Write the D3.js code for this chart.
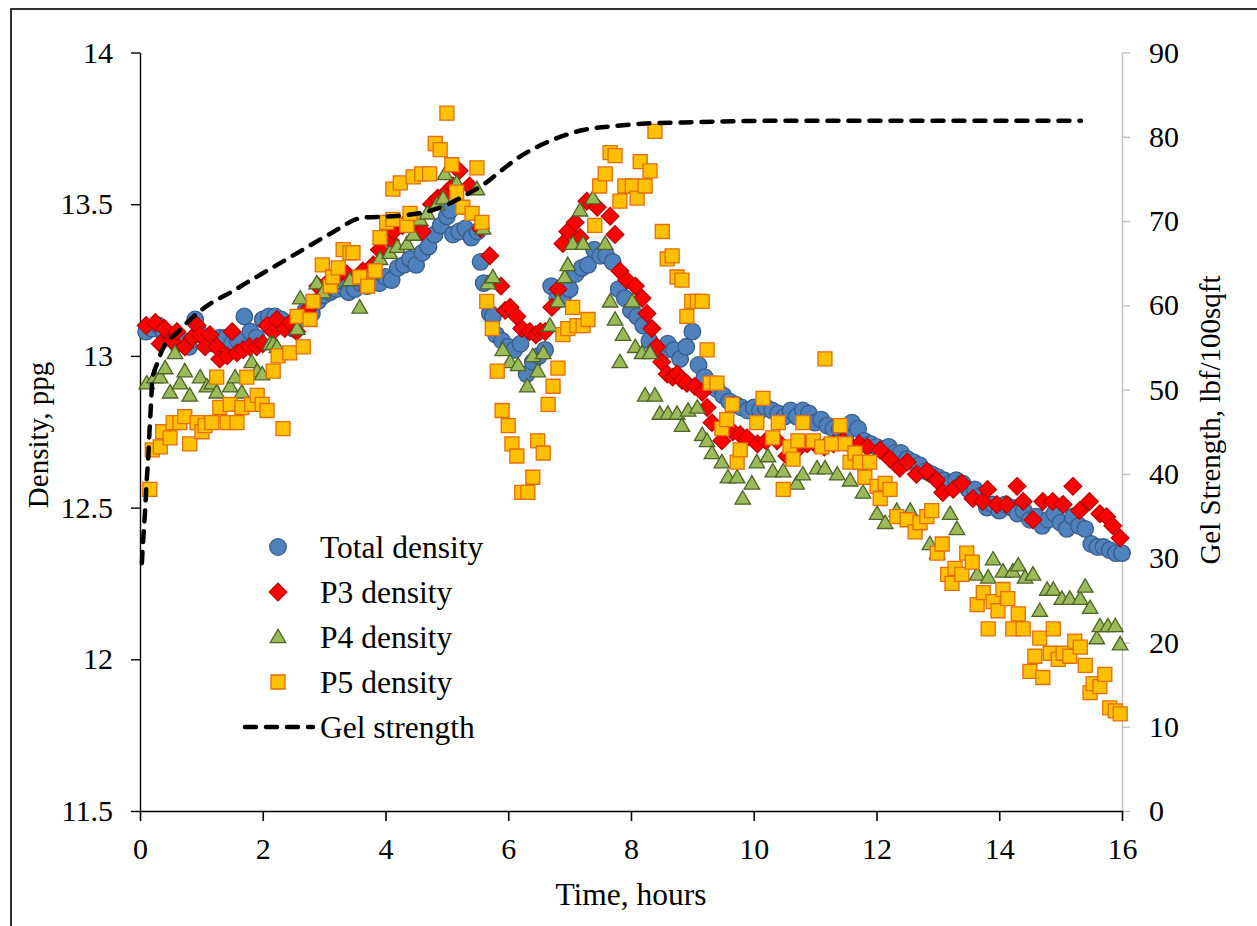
<!DOCTYPE html>
<html>
<head>
<meta charset="utf-8">
<script src="https://cdn.jsdelivr.net/npm/d3@7"></script>
<style>
  body { margin: 0; background: #fff; }
  text { font-family: "Times New Roman", "Liberation Serif", serif; fill: #000; }
</style>
</head>
<body>
<div id="chart"></div>
<script>
// data: [time in hours, value]
var totalDensity = [
  [0.1,13.08],[0.2,13.09],[0.3,13.10],[0.4,13.07],[0.5,13.06],[0.6,13.04],[0.7,13.05],[0.8,13.03],[0.9,13.12],
  [1.0,13.07],[1.1,13.05],[1.2,13.04],[1.3,13.06],[1.4,13.06],[1.5,13.04],[1.6,13.05],[1.7,13.13],[1.8,13.08],[1.9,13.06],
  [2.0,13.12],[2.1,13.13],[2.2,13.13],[2.3,13.12],[2.4,13.10],[2.5,13.09],[2.6,13.12],[2.7,13.15],[2.8,13.14],[2.9,13.18],
  [3.0,13.20],[3.1,13.21],[3.2,13.22],[3.3,13.23],[3.4,13.21],[3.5,13.22],[3.6,13.24],[3.7,13.23],[3.8,13.25],[3.9,13.24],
  [4.0,13.26],[4.1,13.25],[4.2,13.29],[4.3,13.30],[4.4,13.32],[4.5,13.30],[4.6,13.34],[4.7,13.36],[4.8,13.40],[4.9,13.43],
  [5.0,13.46],[5.05,13.48],[5.1,13.40],[5.2,13.41],[5.3,13.42],[5.4,13.39],[5.5,13.41],[5.55,13.31],[5.6,13.24],[5.7,13.14],
  [5.75,13.13],[5.8,13.07],[5.9,13.05],[6.0,13.03],[6.1,13.02],[6.2,13.04],[6.3,12.94],[6.4,12.98],[6.5,13.00],[6.6,13.02],
  [6.7,13.23],[6.8,13.19],[6.9,13.20],[7.0,13.22],[7.1,13.27],[7.2,13.29],[7.3,13.30],[7.4,13.35],[7.5,13.33],[7.6,13.33],
  [7.7,13.31],[7.8,13.22],[7.9,13.19],[8.0,13.15],[8.1,13.13],[8.2,13.10],[8.3,13.05],[8.4,13.02],[8.5,13.01],[8.6,13.04],
  [8.7,13.02],[8.8,12.99],[8.9,13.03],[9.0,13.08],[9.1,12.97],[9.2,12.93],[9.3,12.90],[9.4,12.89],[9.5,12.87],[9.6,12.85],
  [9.7,12.84],[9.8,12.83],[9.9,12.82],[10.0,12.83],[10.1,12.82],[10.2,12.83],[10.3,12.82],[10.4,12.81],[10.5,12.80],
  [10.6,12.82],[10.7,12.80],[10.8,12.82],[10.9,12.81],[11.0,12.78],[11.1,12.79],[11.2,12.77],[11.3,12.76],[11.4,12.76],
  [11.5,12.74],[11.6,12.78],[11.7,12.76],[11.8,12.72],[11.9,12.71],[12.0,12.70],[12.1,12.69],[12.2,12.70],[12.3,12.68],
  [12.4,12.68],[12.5,12.66],[12.6,12.65],[12.7,12.64],[12.8,12.62],[12.9,12.61],[13.0,12.60],[13.1,12.59],[13.2,12.58],
  [13.3,12.59],[13.4,12.58],[13.5,12.56],[13.6,12.56],[13.7,12.54],[13.8,12.50],[13.9,12.51],[14.0,12.49],[14.1,12.51],
  [14.2,12.50],[14.3,12.48],[14.4,12.49],[14.5,12.46],[14.6,12.47],[14.7,12.44],[14.8,12.46],[14.9,12.48],[15.0,12.45],
  [15.1,12.43],[15.2,12.47],[15.3,12.44],[15.4,12.43],[15.5,12.38],[15.6,12.37],[15.7,12.37],[15.8,12.36],[15.9,12.35],[16.0,12.35]
];

var p3Density = [
  [0.1,13.10],[0.25,13.11],[0.33,13.04],[0.4,13.09],[0.52,13.05],[0.6,13.08],[0.73,13.03],[0.85,13.06],[0.93,13.10],
  [0.98,13.07],[1.06,13.03],[1.14,13.07],[1.25,13.03],[1.3,12.99],[1.42,13.00],[1.5,13.08],[1.58,13.01],[1.68,13.02],
  [1.79,13.03],[1.9,13.03],[2.0,13.04],[2.07,13.10],[2.17,13.08],[2.23,13.12],[2.36,13.09],[2.45,13.11],[2.55,13.08],
  [2.72,13.15],[2.9,13.23],[3.05,13.24],[3.15,13.25],[3.37,13.27],[3.63,13.28],[3.8,13.30],[3.9,13.35],[4.08,13.38],
  [4.13,13.41],[4.28,13.43],[4.4,13.45],[4.55,13.43],[4.6,13.41],[4.75,13.50],[4.85,13.52],[5.0,13.54],[5.1,13.56],
  [5.2,13.61],[5.37,13.56],[5.55,13.42],[5.7,13.33],[5.88,13.23],[5.95,13.15],[6.03,13.16],[6.14,13.13],[6.22,13.09],
  [6.35,13.08],[6.45,13.07],[6.52,13.08],[6.6,13.08],[6.71,13.16],[6.81,13.22],[6.89,13.37],[6.97,13.41],[7.09,13.44],
  [7.17,13.39],[7.28,13.51],[7.45,13.49],[7.66,13.46],[7.74,13.40],[7.82,13.28],[7.93,13.25],[8.07,13.23],[8.18,13.19],
  [8.26,13.14],[8.34,13.09],[8.42,13.03],[8.5,12.98],[8.59,12.94],[8.68,12.93],[8.75,12.94],[8.83,12.92],[8.91,12.91],
  [9.04,12.90],[9.16,12.88],[9.24,12.83],[9.32,12.78],[9.48,12.72],[9.66,12.75],[9.78,12.74],[9.89,12.73],[10.06,12.71],
  [10.2,12.72],[10.38,12.72],[10.54,12.67],[10.75,12.70],[10.87,12.71],[11.0,12.71],[11.15,12.70],[11.3,12.71],
  [11.45,12.72],[11.6,12.70],[11.72,12.71],[11.85,12.70],[12.06,12.69],[12.22,12.66],[12.38,12.63],[12.5,12.65],
  [12.65,12.61],[12.82,12.62],[12.98,12.59],[13.08,12.55],[13.25,12.56],[13.39,12.58],[13.57,12.53],[13.73,12.52],
  [13.81,12.56],[13.96,12.51],[14.12,12.51],[14.29,12.57],[14.39,12.52],[14.55,12.46],[14.71,12.52],[14.87,12.52],
  [15.04,12.51],[15.2,12.57],[15.31,12.49],[15.47,12.52],[15.64,12.48],[15.75,12.47],[15.85,12.44],[15.97,12.40]
];

var p4Density = [
  [0.11,12.91],[0.24,12.93],[0.33,12.93],[0.41,12.96],[0.49,12.88],[0.57,13.01],[0.65,12.91],[0.73,12.95],[0.81,12.87],
  [0.98,12.93],[1.09,12.90],[1.17,12.91],[1.25,12.88],[1.47,12.90],[1.55,12.93],[1.66,12.88],[1.82,12.98],[1.91,12.95],
  [1.99,12.94],[2.12,13.04],[2.17,13.04],[2.23,13.03],[2.56,13.09],[2.61,13.19],[2.88,13.24],[2.98,13.21],[3.14,13.24],
  [3.42,13.25],[3.58,13.16],[3.75,13.27],[3.91,13.32],[4.07,13.34],[4.19,13.36],[4.35,13.37],[4.45,13.40],[4.56,13.45],
  [4.68,13.47],[4.84,13.50],[4.94,13.52],[4.97,13.60],[5.16,13.57],[5.49,13.55],[5.59,13.42],[5.67,13.24],[5.75,13.26],
  [5.91,13.02],[6.03,12.98],[6.16,12.97],[6.31,12.90],[6.4,13.00],[6.48,12.95],[6.57,13.01],[6.68,13.10],[6.81,13.18],
  [6.92,13.26],[6.97,13.30],[7.05,13.37],[7.17,13.48],[7.22,13.37],[7.38,13.52],[7.58,13.37],[7.66,13.18],[7.74,13.12],
  [7.82,12.98],[7.87,13.07],[8.02,13.18],[8.07,13.03],[8.18,13.01],[8.31,13.01],[8.23,12.87],[8.39,12.87],[8.47,12.81],
  [8.6,12.81],[8.75,12.81],[8.83,12.77],[8.93,12.82],[9.08,12.83],[9.16,12.74],[9.24,12.72],[9.32,12.68],[9.48,12.65],
  [9.58,12.60],[9.73,12.60],[9.82,12.53],[9.97,12.58],[10.05,12.65],[10.23,12.67],[10.31,12.62],[10.48,12.62],
  [10.7,12.58],[10.8,12.61],[11.03,12.63],[11.16,12.63],[11.36,12.61],[11.57,12.59],[11.78,12.55],[12.01,12.48],
  [12.14,12.45],[12.33,12.49],[12.55,12.49],[12.87,12.38],[12.99,12.35],[13.2,12.48],[13.31,12.43],[13.64,12.28],
  [13.82,12.27],[13.9,12.33],[14.06,12.29],[14.22,12.29],[14.31,12.31],[14.42,12.27],[14.55,12.28],[14.66,12.16],
  [14.78,12.23],[14.88,12.23],[15.02,12.20],[15.15,12.20],[15.32,12.20],[15.4,12.24],[15.48,12.17],[15.59,12.07],
  [15.64,12.11],[15.77,12.11],[15.89,12.11],[15.97,12.05]
];

var p5Density = [
  [0.16,12.56],[0.2,12.69],[0.33,12.70],[0.37,12.75],[0.49,12.73],[0.54,12.78],[0.65,12.78],[0.73,12.80],[0.81,12.71],
  [0.93,12.78],[1.01,12.75],[1.06,12.77],[1.17,12.78],[1.25,12.93],[1.3,12.83],[1.42,12.78],[1.47,12.84],[1.58,12.78],
  [1.66,12.83],[1.74,12.93],[1.82,12.84],[1.91,12.87],[1.99,12.84],[2.07,12.82],[2.17,12.95],[2.25,13.00],[2.33,12.76],
  [2.44,13.01],[2.56,13.13],[2.66,13.03],[2.77,13.12],[2.82,13.18],[2.97,13.30],[3.1,13.23],[3.14,13.26],[3.23,13.29],
  [3.31,13.35],[3.42,13.34],[3.47,13.34],[3.58,13.26],[3.71,13.23],[3.83,13.28],[3.91,13.39],[4.02,13.44],[4.12,13.45],
  [4.12,13.55],[4.24,13.57],[4.35,13.43],[4.4,13.47],[4.45,13.59],[4.59,13.60],[4.72,13.60],[4.81,13.70],[4.89,13.68],
  [5.0,13.80],[5.08,13.63],[5.16,13.54],[5.26,13.49],[5.41,13.47],[5.49,13.62],[5.57,13.44],[5.65,13.18],[5.74,13.09],
  [5.82,12.95],[5.9,12.82],[6.0,12.77],[6.06,12.71],[6.14,12.67],[6.22,12.55],[6.32,12.55],[6.4,12.60],[6.48,12.72],
  [6.57,12.68],[6.65,12.84],[6.73,12.90],[6.81,12.96],[6.89,13.07],[6.97,13.09],[7.05,13.16],[7.12,13.10],[7.22,13.10],
  [7.3,13.12],[7.41,13.43],[7.49,13.56],[7.58,13.60],[7.66,13.67],[7.74,13.66],[7.82,13.51],[7.9,13.56],[8.02,13.56],
  [8.1,13.52],[8.15,13.64],[8.23,13.56],[8.31,13.61],[8.39,13.74],[8.51,13.41],[8.59,13.32],[8.67,13.33],[8.75,13.26],
  [8.83,13.25],[8.91,13.13],[8.99,13.18],[9.08,13.18],[9.16,13.18],[9.24,13.02],[9.29,12.91],[9.4,12.91],[9.48,12.76],
  [9.56,12.79],[9.65,12.84],[9.73,12.65],[9.78,12.69],[10.05,12.78],[10.15,12.86],[10.31,12.73],[10.4,12.78],
  [10.48,12.56],[10.59,12.70],[10.64,12.66],[10.72,12.72],[10.8,12.78],[10.97,12.72],[11.11,12.70],[11.16,12.99],
  [11.27,12.71],[11.41,12.77],[11.49,12.71],[11.57,12.65],[11.65,12.68],[11.73,12.65],[11.81,12.60],[11.89,12.65],
  [12.01,12.57],[12.06,12.53],[12.14,12.58],[12.22,12.56],[12.33,12.47],[12.5,12.46],[12.63,12.42],[12.71,12.45],
  [12.82,12.47],[12.9,12.49],[12.99,12.35],[13.07,12.38],[13.16,12.28],[13.23,12.25],[13.28,12.30],[13.39,12.28],
  [13.47,12.35],[13.56,12.32],[13.64,12.18],[13.74,12.22],[13.82,12.10],[13.9,12.19],[13.98,12.16],[14.06,12.23],
  [14.14,12.20],[14.22,12.10],[14.31,12.15],[14.39,12.10],[14.5,11.96],[14.58,12.01],[14.66,12.07],[14.71,11.94],
  [14.83,12.02],[14.88,12.10],[14.96,12.00],[15.04,12.02],[15.15,12.01],[15.23,12.06],[15.32,12.04],[15.4,11.98],
  [15.48,11.89],[15.53,11.92],[15.64,11.91],[15.72,11.95],[15.8,11.84],[15.89,11.83],[15.97,11.82]
];

var gelStrength = [
  [0.03,29.4],[0.055,32.5],[0.08,35.3],[0.11,39.3],[0.135,42],[0.15,44.4],[0.165,46.4],[0.18,48.4],[0.2,51.1],
  [0.28,53.1],[0.38,55],[0.6,56.7],[0.86,58.6],[1.19,60.4],[1.47,61.5],[1.74,62.7],[2.0,63.8],[2.56,66.2],[3.1,68.5],
  [3.63,70.4],[4.19,70.6],[4.72,71.2],[5.05,72.1],[5.26,72.9],[5.59,74.3],[5.82,75.6],[6.14,77.4],[6.68,79.5],
  [7.22,80.8],[7.77,81.3],[8.31,81.6],[8.85,81.7],[9.4,81.8],[10.5,81.9],[12,81.9],[14,81.9],[15.33,81.9]
];

var xTicks = [0, 2, 4, 6, 8, 10, 12, 14, 16];
var yLeftTicks = [11.5, 12, 12.5, 13, 13.5, 14];
var yRightTicks = [0, 10, 20, 30, 40, 50, 60, 70, 80, 90];
var legendNames = ["Total density", "P3 density", "P4 density", "P5 density", "Gel strength"];

var W = 1257, H = 926;
var plot = {left: 140, right: 1122, top: 52.5, bottom: 811};

var svg = d3.select("#chart").append("svg")
    .attr("width", W)
    .attr("height", H);

// outer frame (runs off the right and bottom edges)
svg.append("rect")
    .attr("x", 11).attr("y", 9)
    .attr("width", 1400).attr("height", 1000)
    .attr("fill", "none")
    .attr("stroke", "#000")
    .attr("stroke-width", 1.6);

var x = d3.scaleLinear().domain([0, 16]).range([plot.left, plot.right]);
var y = d3.scaleLinear().domain([11.5, 14]).range([plot.bottom, plot.top]);
var y2 = d3.scaleLinear().domain([0, 90]).range([plot.bottom, plot.top]);

// marker shapes
function circlePath(r) { return d3.symbol(d3.symbolCircle, Math.PI * r * r)(); }
function squarePath(s) { return d3.symbol(d3.symbolSquare, s * s)(); }
function diamondPath(h) { return "M0," + (-h) + "L" + h + ",0L0," + h + "L" + (-h) + ",0Z"; }
function trianglePath(s) {
  var hh = s * Math.sqrt(3) / 2;
  return "M0," + (-hh / 2 - 1) + "L" + (s / 2) + "," + (hh / 2 - 1) + "L" + (-s / 2) + "," + (hh / 2 - 1) + "Z";
}

var series = [
  {name: legendNames[0], data: totalDensity, path: circlePath(8.3), fill: "#4f81bd", stroke: "#385d8a"},
  {name: legendNames[1], data: p3Density, path: diamondPath(8.8), fill: "#ff0000", stroke: "#c00000"},
  {name: legendNames[2], data: p4Density, path: trianglePath(15.5), fill: "#9bbb59", stroke: "#4f6228"},
  {name: legendNames[3], data: p5Density, path: squarePath(14), fill: "#ffc000", stroke: "#e46c0a"}
];

// axes
var tickFont = "30px";
var labelFont = "31.5px";
var vertFont = "29px";

var gLeft = svg.append("g")
    .attr("transform", "translate(" + plot.left + ",0)")
    .call(d3.axisLeft(y).tickValues(yLeftTicks).tickSize(9).tickSizeOuter(0).tickPadding(18)
      .tickFormat(function(d) { return d; }));
gLeft.selectAll("path, line").attr("stroke", "#000").attr("stroke-width", 1.4);

var gRight = svg.append("g")
    .attr("transform", "translate(" + plot.right + ",0)")
    .call(d3.axisRight(y2).tickValues(yRightTicks).tickSize(8).tickSizeOuter(0).tickPadding(19));
gRight.selectAll("path, line").attr("stroke", "#bfbfbf").attr("stroke-width", 1.4);

var gBottom = svg.append("g")
    .attr("transform", "translate(0," + plot.bottom + ")")
    .call(d3.axisBottom(x).tickValues(xTicks).tickSize(10).tickSizeOuter(0).tickPadding(17));
gBottom.selectAll("path, line").attr("stroke", "#000").attr("stroke-width", 1.6);

svg.selectAll(".tick text")
    .style("font-family", "'Times New Roman', 'Liberation Serif', serif")
    .style("font-size", tickFont)
    .attr("fill", "#000");

// axis titles
svg.append("text")
    .attr("x", (plot.left + plot.right) / 2)
    .attr("y", 905)
    .attr("text-anchor", "middle")
    .style("font-size", labelFont)
    .text("Time, hours");

svg.append("text")
    .attr("transform", "translate(38," + 435 + ") rotate(-90)")
    .attr("text-anchor", "middle")
    .attr("dy", "0.35em")
    .style("font-size", vertFont)
    .text("Density, ppg");

svg.append("text")
    .attr("transform", "translate(1210," + 420 + ") rotate(-90)")
    .attr("text-anchor", "middle")
    .attr("dy", "0.35em")
    .style("font-size", vertFont)
    .text("Gel Strength, lbf/100sqft");

// scatter series
series.forEach(function(s) {
  svg.append("g")
    .selectAll("path")
    .data(s.data)
    .enter().append("path")
    .attr("d", s.path)
    .attr("transform", function(d) { return "translate(" + x(d[0]) + "," + y(d[1]) + ")"; })
    .attr("fill", s.fill)
    .attr("stroke", s.stroke)
    .attr("stroke-width", 1.3);
});

// gel strength line on the secondary axis
var gelLine = d3.line()
    .x(function(d) { return x(d[0]); })
    .y(function(d) { return y2(d[1]); })
    .curve(d3.curveMonotoneX);

svg.append("path")
    .datum(gelStrength)
    .attr("d", gelLine)
    .attr("fill", "none")
    .attr("stroke", "#000")
    .attr("stroke-width", 4.5)
    .attr("stroke-dasharray", "11,10")
    .attr("stroke-linecap", "round");

// legend
var legend = svg.append("g").attr("transform", "translate(278,547)");
var rowH = 45;

series.forEach(function(s, i) {
  var row = legend.append("g").attr("transform", "translate(0," + (i * rowH) + ")");
  row.append("path")
    .attr("d", s.path)
    .attr("fill", s.fill)
    .attr("stroke", s.stroke)
    .attr("stroke-width", 1.3);
  row.append("text")
    .attr("x", 42)
    .attr("dy", "0.35em")
    .style("font-size", labelFont)
    .text(s.name);
});

var gelRow = legend.append("g").attr("transform", "translate(0," + (4 * rowH) + ")");
gelRow.append("line")
    .attr("x1", -33).attr("x2", 35)
    .attr("stroke", "#000")
    .attr("stroke-width", 4.5)
    .attr("stroke-dasharray", "11,10")
    .attr("stroke-linecap", "round");
gelRow.append("text")
    .attr("x", 42)
    .attr("dy", "0.35em")
    .style("font-size", labelFont)
    .text(legendNames[4]);
</script>
</body>
</html>
